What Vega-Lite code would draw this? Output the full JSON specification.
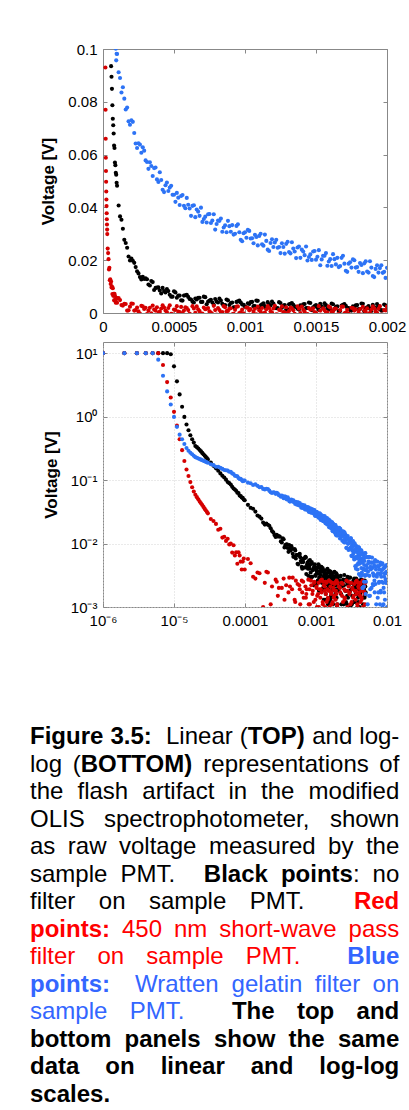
{
"$schema": "https://vega.github.io/schema/vega-lite/v6.json",
"background": "#ffffff",
"padding": {"left": 30, "top": 41, "right": 0, "bottom": 0},
"spacing": 29,
"bounds": "flush",
"resolve": {"scale": {"color": "independent"}},
"config": {
  "font": "Liberation Sans",
  "axis": {"labelFont": "Liberation Sans", "labelFontSize": 15, "labelColor": "#000000", "titleFont": "Liberation Sans", "titleFontSize": 17, "titleFontWeight": "bold", "titleColor": "#000000", "tickColor": "#888888", "tickSize": -4, "domain": false, "labelPadding": 10, "labelFlush": false, "labelOverlap": false, "titlePadding": 10, "grid": false}
},
"datasets": {
"flash": [
{"us":1,"none":10,"swp450":10,"wratten":10},
{"us":2,"none":10,"swp450":10,"wratten":10},
{"us":3,"none":10,"swp450":10,"wratten":10},
{"us":4,"none":10,"swp450":10,"wratten":10},
{"us":5,"none":10,"swp450":10,"wratten":10},
{"us":6,"none":10,"swp450":10,"wratten":7.9},
{"us":7,"none":10,"swp450":6.5,"wratten":4.4},
{"us":8,"none":10,"swp450":3.5,"wratten":2.5},
{"us":9,"none":9.6,"swp450":2.0,"wratten":1.55},
{"us":10,"none":6.2,"swp450":1.19,"wratten":0.99},
{"us":11,"none":3.6,"swp450":0.72,"wratten":0.69},
{"us":12,"none":2.24,"swp450":0.44,"wratten":0.52},
{"us":13,"none":1.43,"swp450":0.296,"wratten":0.44},
{"us":14,"none":0.99,"swp450":0.2,"wratten":0.37},
{"us":15,"none":0.75,"swp450":0.147,"wratten":0.32},
{"us":16,"none":0.61,"swp450":0.116,"wratten":0.29},
{"us":17,"none":0.51,"swp450":0.093,"wratten":0.27},
{"us":18,"none":0.44,"swp450":0.077,"wratten":0.255},
{"us":19,"none":0.39,"swp450":0.066,"wratten":0.242},
{"us":20,"none":0.345,"swp450":0.0588,"wratten":0.23},
{"us":21,"none":0.33,"swp450":0.0538,"wratten":0.2245},
{"us":22,"none":0.315,"swp450":0.0497,"wratten":0.219},
{"us":23,"none":0.298,"swp450":0.046,"wratten":0.2145},
{"us":24,"none":0.283,"swp450":0.043,"wratten":0.21},
{"us":25,"none":0.268,"swp450":0.0405,"wratten":0.2057},
{"us":26,"none":0.255,"swp450":0.0378,"wratten":0.2017},
{"us":27,"none":0.243,"swp450":0.0355,"wratten":0.198},
{"us":28,"none":0.232,"swp450":0.0335,"wratten":0.1944},
{"us":29,"none":0.222,"swp450":0.0316,"wratten":0.191},
{"us":30,"none":0.212,"swp450":0.0299,"wratten":0.1878},
{"us":33,"none":0.1896,"swp450":0.0244,"wratten":0.1775},
{"us":36,"none":0.1678,"swp450":0.0227,"wratten":0.172},
{"us":39,"none":0.1532,"swp450":0.0204,"wratten":0.1625},
{"us":42,"none":0.1404,"swp450":0.0165,"wratten":0.1619},
{"us":45,"none":0.1275,"swp450":0.0171,"wratten":0.156},
{"us":48,"none":0.1171,"swp450":0.0124,"wratten":0.1499},
{"us":51,"none":0.11,"swp450":0.0128,"wratten":0.1441},
{"us":54,"none":0.1016,"swp450":0.011,"wratten":0.143},
{"us":57,"none":0.0935,"swp450":0.0119,"wratten":0.141},
{"us":60,"none":0.0895,"swp450":0.0097,"wratten":0.1351},
{"us":63,"none":0.0849,"swp450":0.01,"wratten":0.1352},
{"us":66,"none":0.0787,"swp450":0.0072,"wratten":0.1273},
{"us":69,"none":0.0736,"swp450":0.0094,"wratten":0.1246},
{"us":72,"none":0.0711,"swp450":0.0065,"wratten":0.1169},
{"us":75,"none":0.068,"swp450":0.0073,"wratten":0.116},
{"us":78,"none":0.0634,"swp450":0.0048,"wratten":0.1146},
{"us":81,"none":0.0625,"swp450":0.0073,"wratten":0.1076},
{"us":84,"none":0.057,"swp450":0.0065,"wratten":0.1038},
{"us":87,"none":0.056,"swp450":0.0052,"wratten":0.1047},
{"us":90,"none":0.0531,"swp450":0.0039,"wratten":0.1001},
{"us":93,"none":0.0524,"swp450":0.0052,"wratten":0.0957},
{"us":96,"none":0.0493,"swp450":0.0058,"wratten":0.0982},
{"us":99,"none":0.0482,"swp450":0.0039,"wratten":0.0981},
{"us":110,"none":0.0407,"swp450":0.0057,"wratten":0.0912},
{"us":130,"none":0.0353,"swp450":0.003,"wratten":0.0835},
{"us":150,"none":0.0277,"swp450":0.0035,"wratten":0.0812},
{"us":170,"none":0.0247,"swp450":0.0009,"wratten":0.0778},
{"us":190,"none":0.0199,"swp450":0.0024,"wratten":0.0713},
{"us":210,"none":0.0198,"swp450":0.0035,"wratten":0.0724},
{"us":230,"none":0.0174,"swp450":0.0011,"wratten":0.0642},
{"us":250,"none":0.015,"swp450":0.0006,"wratten":0.0643},
{"us":270,"none":0.0127,"swp450":0.0027,"wratten":0.0607},
{"us":290,"none":0.0129,"swp450":0.0015,"wratten":0.0615},
{"us":310,"none":0.0128,"swp450":-0.0004,"wratten":0.0572},
{"us":330,"none":0.0104,"swp450":0.002,"wratten":0.0571},
{"us":350,"none":0.0117,"swp450":0.0028,"wratten":0.0519},
{"us":370,"none":0.0095,"swp450":0.0009,"wratten":0.0551},
{"us":390,"none":0.0097,"swp450":0.00003,"wratten":0.0496},
{"us":410,"none":0.0074,"swp450":0.0017,"wratten":0.0504},
{"us":430,"none":0.0083,"swp450":0.0021,"wratten":0.0458},
{"us":450,"none":0.0091,"swp450":0.0004,"wratten":0.0494},
{"us":470,"none":0.0069,"swp450":0.0029,"wratten":0.0475},
{"us":490,"none":0.0062,"swp450":-0.0005,"wratten":0.0448},
{"us":510,"none":0.0078,"swp450":0.0012,"wratten":0.0421},
{"us":530,"none":0.0066,"swp450":0.0005,"wratten":0.0437},
{"us":550,"none":0.0048,"swp450":0.0023,"wratten":0.0443},
{"us":570,"none":0.0066,"swp450":0.0009,"wratten":0.0406},
{"us":590,"none":0.0069,"swp450":0.0019,"wratten":0.0436},
{"us":610,"none":0.0053,"swp450":-0.0002,"wratten":0.0396},
{"us":630,"none":0.0043,"swp450":0.0026,"wratten":0.0406},
{"us":650,"none":0.0055,"swp450":0.0001,"wratten":0.0363},
{"us":670,"none":0.0058,"swp450":0.0014,"wratten":0.0384},
{"us":690,"none":0.0042,"swp450":-0.0007,"wratten":0.0399},
{"us":710,"none":0.0062,"swp450":0.0021,"wratten":0.0356},
{"us":730,"none":0.0033,"swp450":0.0016,"wratten":0.0343},
{"us":750,"none":0.0047,"swp450":0.0006,"wratten":0.0375},
{"us":770,"none":0.004,"swp450":-0.0004,"wratten":0.035},
{"us":790,"none":0.0053,"swp450":0.0011,"wratten":0.0316},
{"us":810,"none":0.004,"swp450":0.0019,"wratten":0.035},
{"us":830,"none":0.0047,"swp450":0.0002,"wratten":0.0358},
{"us":850,"none":0.0029,"swp450":0.0026,"wratten":0.0324},
{"us":870,"none":0.0051,"swp450":0.0007,"wratten":0.0306},
{"us":890,"none":0.003,"swp450":0.0016,"wratten":0.0329},
{"us":910,"none":0.004,"swp450":-0.0005,"wratten":0.0333},
{"us":930,"none":0.0022,"swp450":0.0012,"wratten":0.03},
{"us":950,"none":0.0044,"swp450":0.0025,"wratten":0.0336},
{"us":970,"none":0.004,"swp450":0.0003,"wratten":0.0277},
{"us":990,"none":0.0031,"swp450":-0.0001,"wratten":0.0302},
{"us":1010,"none":0.0022,"swp450":0.0021,"wratten":0.0285},
{"us":1030,"none":0.0034,"swp450":0.001,"wratten":0.0311},
{"us":1050,"none":0.0042,"swp450":-0.0008,"wratten":0.0283},
{"us":1070,"none":0.0026,"swp450":0.0016,"wratten":0.0296},
{"us":1090,"none":0.0046,"swp450":0.0024,"wratten":0.0256},
{"us":1110,"none":0.0029,"swp450":0.0006,"wratten":0.03},
{"us":1130,"none":0.0037,"swp450":-0.0003,"wratten":0.0255},
{"us":1150,"none":0.0018,"swp450":0.0014,"wratten":0.0273},
{"us":1170,"none":0.0032,"swp450":0.0019,"wratten":0.0235},
{"us":1190,"none":0.0043,"swp450":0.0002,"wratten":0.0279},
{"us":1210,"none":0.0024,"swp450":0.0027,"wratten":0.0267},
{"us":1230,"none":0.0019,"swp450":-0.0006,"wratten":0.0247},
{"us":1250,"none":0.0038,"swp450":0.0011,"wratten":0.0227},
{"us":1270,"none":0.0028,"swp450":0.0004,"wratten":0.025},
{"us":1290,"none":0.0013,"swp450":0.0022,"wratten":0.0262},
{"us":1310,"none":0.0033,"swp450":0.0008,"wratten":0.0231},
{"us":1330,"none":0.0038,"swp450":0.0018,"wratten":0.0268},
{"us":1350,"none":0.0024,"swp450":-0.0003,"wratten":0.0233},
{"us":1370,"none":0.0016,"swp450":0.0025,"wratten":0.0248},
{"us":1390,"none":0.0029,"swp450":-0.00002,"wratten":0.0209},
{"us":1410,"none":0.0033,"swp450":0.0012,"wratten":0.0233},
{"us":1430,"none":0.0019,"swp450":-0.0009,"wratten":0.0252},
{"us":1450,"none":0.004,"swp450":0.0019,"wratten":0.0212},
{"us":1470,"none":0.0011,"swp450":0.0014,"wratten":0.0201},
{"us":1490,"none":0.0026,"swp450":0.0004,"wratten":0.0235},
{"us":1510,"none":0.002,"swp450":-0.0006,"wratten":0.0213},
{"us":1530,"none":0.0035,"swp450":0.0009,"wratten":0.0181},
{"us":1550,"none":0.0022,"swp450":0.0018,"wratten":0.0217},
{"us":1570,"none":0.003,"swp450":0.0001,"wratten":0.0227},
{"us":1590,"none":0.0013,"swp450":0.0025,"wratten":0.0195},
{"us":1610,"none":0.0036,"swp450":0.0006,"wratten":0.0178},
{"us":1630,"none":0.0015,"swp450":0.0016,"wratten":0.0204},
{"us":1650,"none":0.0025,"swp450":-0.0006,"wratten":0.0209},
{"us":1670,"none":0.0008,"swp450":0.0011,"wratten":0.0178},
{"us":1690,"none":0.0031,"swp450":0.0024,"wratten":0.0217},
{"us":1710,"none":0.0027,"swp450":0.0002,"wratten":0.016},
{"us":1730,"none":0.0019,"swp450":-0.0002,"wratten":0.0187},
{"us":1750,"none":0.0009,"swp450":0.002,"wratten":0.0172},
{"us":1770,"none":0.0022,"swp450":0.0009,"wratten":0.02},
{"us":1790,"none":0.003,"swp450":-0.0009,"wratten":0.0174},
{"us":1810,"none":0.0015,"swp450":0.0015,"wratten":0.0189},
{"us":1830,"none":0.0035,"swp450":0.0023,"wratten":0.0151},
{"us":1850,"none":0.0018,"swp450":0.0005,"wratten":0.0196},
{"us":1870,"none":0.0026,"swp450":-0.0004,"wratten":0.0153},
{"us":1890,"none":0.0008,"swp450":0.0013,"wratten":0.0172},
{"us":1910,"none":0.0022,"swp450":0.0018,"wratten":0.0136},
{"us":1930,"none":0.0034,"swp450":0.0001,"wratten":0.0181},
{"us":1950,"none":0.0014,"swp450":0.0026,"wratten":0.017},
{"us":1970,"none":0.001,"swp450":-0.0007,"wratten":0.0152},
{"us":1990,"none":0.0029,"swp450":0.001,"wratten":0.0133},
{"us":120,"none":0.0366,"swp450":0.0049,"wratten":0.089},
{"us":140,"none":0.0319,"swp450":0.0028,"wratten":0.0855},
{"us":160,"none":0.0265,"swp450":0.0034,"wratten":0.0771},
{"us":180,"none":0.0214,"swp450":0.001,"wratten":0.0726},
{"us":200,"none":0.0206,"swp450":0.0036,"wratten":0.073},
{"us":220,"none":0.019,"swp450":0.0009,"wratten":0.0682},
{"us":240,"none":0.0158,"swp450":0.0021,"wratten":0.0625},
{"us":260,"none":0.0136,"swp450":-0.0002,"wratten":0.0638},
{"us":280,"none":0.0137,"swp450":0.0025,"wratten":0.0628},
{"us":300,"none":0.0131,"swp450":0.002,"wratten":0.0578},
{"us":320,"none":0.0108,"swp450":0.0009,"wratten":0.0546},
{"us":340,"none":0.0121,"swp450":-0.0001,"wratten":0.0557},
{"us":360,"none":0.0087,"swp450":0.0013,"wratten":0.0549},
{"us":380,"none":0.0096,"swp450":0.0022,"wratten":0.0506},
{"us":400,"none":0.0085,"swp450":0.0005,"wratten":0.0533},
{"us":420,"none":0.0095,"swp450":0.0029,"wratten":0.0467},
{"us":440,"none":0.0078,"swp450":0.0009,"wratten":0.0484},
{"us":460,"none":0.0083,"swp450":0.0019,"wratten":0.0462},
{"us":480,"none":0.0062,"swp450":-0.0003,"wratten":0.0482},
{"us":500,"none":0.0082,"swp450":0.0013,"wratten":0.0448},
{"us":520,"none":0.0058,"swp450":0.0026,"wratten":0.0455},
{"us":540,"none":0.0066,"swp450":0.0004,"wratten":0.0409},
{"us":560,"none":0.0047,"swp450":-0.00004,"wratten":0.0447},
{"us":580,"none":0.0067,"swp450":0.0022,"wratten":0.0397},
{"us":600,"none":0.0061,"swp450":0.0011,"wratten":0.041},
{"us":620,"none":0.0051,"swp450":-0.0007,"wratten":0.0368},
{"us":640,"none":0.004,"swp450":0.0017,"wratten":0.0408},
{"us":660,"none":0.0051,"swp450":0.0025,"wratten":0.0392},
{"us":680,"none":0.0058,"swp450":0.0007,"wratten":0.0368},
{"us":700,"none":0.0042,"swp450":-0.0002,"wratten":0.0345},
{"us":720,"none":0.006,"swp450":0.0014,"wratten":0.0365},
{"us":740,"none":0.0043,"swp450":0.0019,"wratten":0.0374},
{"us":760,"none":0.005,"swp450":0.0002,"wratten":0.0341},
{"us":780,"none":0.0031,"swp450":0.0027,"wratten":0.0374},
{"us":800,"none":0.0044,"swp450":-0.0006,"wratten":0.0337},
{"us":820,"none":0.0055,"swp450":0.0011,"wratten":0.0349},
{"us":840,"none":0.0035,"swp450":0.0004,"wratten":0.0308},
{"us":860,"none":0.003,"swp450":0.0022,"wratten":0.0332},
{"us":880,"none":0.0048,"swp450":0.0008,"wratten":0.0349},
{"us":900,"none":0.0038,"swp450":0.0018,"wratten":0.0308},
{"us":920,"none":0.0022,"swp450":-0.0003,"wratten":0.0297},
{"us":940,"none":0.0042,"swp450":0.0024,"wratten":0.033},
{"us":960,"none":0.0047,"swp450":-0.00002,"wratten":0.0306},
{"us":980,"none":0.0032,"swp450":0.0013,"wratten":0.0272},
{"us":1000,"none":0.0024,"swp450":-0.0008,"wratten":0.0306},
{"us":1020,"none":0.0037,"swp450":0.002,"wratten":0.0315},
{"us":1040,"none":0.0041,"swp450":0.0015,"wratten":0.0282},
{"us":1060,"none":0.0026,"swp450":0.0005,"wratten":0.0264},
{"us":1080,"none":0.0047,"swp450":-0.0005,"wratten":0.0288},
{"us":1100,"none":0.0018,"swp450":0.001,"wratten":0.0292},
{"us":1120,"none":0.0033,"swp450":0.0019,"wratten":0.026},
{"us":1140,"none":0.0026,"swp450":0.0002,"wratten":0.0297},
{"us":1160,"none":0.0041,"swp450":0.0026,"wratten":0.024},
{"us":1180,"none":0.0028,"swp450":0.0007,"wratten":0.0265},
{"us":1200,"none":0.0036,"swp450":0.0017,"wratten":0.025},
{"us":1220,"none":0.0018,"swp450":-0.0005,"wratten":0.0277},
{"us":1240,"none":0.0041,"swp450":0.0012,"wratten":0.025},
{"us":1260,"none":0.002,"swp450":0.0025,"wratten":0.0264},
{"us":1280,"none":0.003,"swp450":0.0003,"wratten":0.0225},
{"us":1300,"none":0.0013,"swp450":-0.0001,"wratten":0.027},
{"us":1320,"none":0.0035,"swp450":0.0021,"wratten":0.0226},
{"us":1340,"none":0.0031,"swp450":0.001,"wratten":0.0244},
{"us":1360,"none":0.0023,"swp450":-0.0008,"wratten":0.0208},
{"us":1380,"none":0.0013,"swp450":0.0016,"wratten":0.0252},
{"us":1400,"none":0.0026,"swp450":0.0024,"wratten":0.024},
{"us":1420,"none":0.0034,"swp450":0.0005,"wratten":0.0219},
{"us":1440,"none":0.0019,"swp450":-0.0004,"wratten":0.0199},
{"us":1460,"none":0.0038,"swp450":0.0013,"wratten":0.0222},
{"us":1480,"none":0.0022,"swp450":0.0018,"wratten":0.0233},
{"us":1500,"none":0.003,"swp450":0.0001,"wratten":0.0202},
{"us":1520,"none":0.0012,"swp450":0.0026,"wratten":0.0238},
{"us":1540,"none":0.0025,"swp450":-0.0007,"wratten":0.0203},
{"us":1560,"none":0.0037,"swp450":0.001,"wratten":0.0217},
{"us":1580,"none":0.0018,"swp450":0.0003,"wratten":0.0179},
{"us":1600,"none":0.0014,"swp450":0.0021,"wratten":0.0204},
{"us":1620,"none":0.0033,"swp450":0.0007,"wratten":0.0223},
{"us":1640,"none":0.0023,"swp450":0.0017,"wratten":0.0184},
{"us":1660,"none":0.0008,"swp450":-0.0004,"wratten":0.0174},
{"us":1680,"none":0.0028,"swp450":0.0024,"wratten":0.0209},
{"us":1700,"none":0.0034,"swp450":-0.0001,"wratten":0.0187},
{"us":1720,"none":0.002,"swp450":0.0012,"wratten":0.0156},
{"us":1740,"none":0.0011,"swp450":-0.0009,"wratten":0.0192},
{"us":1760,"none":0.0025,"swp450":0.0019,"wratten":0.0203},
{"us":1780,"none":0.0029,"swp450":0.0014,"wratten":0.0172},
{"us":1800,"none":0.0015,"swp450":0.0004,"wratten":0.0156},
{"us":1820,"none":0.0036,"swp450":-0.0006,"wratten":0.0182},
{"us":1840,"none":0.0007,"swp450":0.0009,"wratten":0.0188},
{"us":1860,"none":0.0022,"swp450":0.0018,"wratten":0.0157},
{"us":1880,"none":0.0016,"swp450":0.0001,"wratten":0.0196},
{"us":1900,"none":0.0031,"swp450":0.0025,"wratten":0.014},
{"us":1920,"none":0.0019,"swp450":0.0006,"wratten":0.0167},
{"us":1940,"none":0.0026,"swp450":0.0016,"wratten":0.0153},
{"us":1960,"none":0.0009,"swp450":-0.0006,"wratten":0.0181},
{"us":1980,"none":0.0032,"swp450":0.0011,"wratten":0.0156},
{"us":2000,"none":0.0011,"swp450":0.0024,"wratten":0.0171},
{"us":2050,"none":0.0019,"swp450":0.0003,"wratten":0.0155},
{"us":2100,"none":0.0005,"swp450":0.0021,"wratten":0.0167},
{"us":2150,"none":0.0024,"swp450":0.0007,"wratten":0.0135},
{"us":2200,"none":0.003,"swp450":0.0017,"wratten":0.0171},
{"us":2250,"none":0.0016,"swp450":-0.0004,"wratten":0.0136},
{"us":2300,"none":0.0008,"swp450":0.0024,"wratten":0.015},
{"us":2350,"none":0.0022,"swp450":-0.0001,"wratten":0.0111},
{"us":2400,"none":0.0026,"swp450":0.0012,"wratten":0.0136},
{"us":2450,"none":0.0011,"swp450":-0.0009,"wratten":0.0154},
{"us":2500,"none":0.0032,"swp450":0.0019,"wratten":0.0114},
{"us":2550,"none":0.0004,"swp450":0.0014,"wratten":0.0104},
{"us":2600,"none":0.0018,"swp450":0.0004,"wratten":0.0138},
{"us":2650,"none":0.0012,"swp450":-0.0006,"wratten":0.0116},
{"us":2700,"none":0.0027,"swp450":0.0009,"wratten":0.0085},
{"us":2750,"none":0.0015,"swp450":0.0018,"wratten":0.0121},
{"us":2800,"none":0.0023,"swp450":0.0001,"wratten":0.0131},
{"us":2850,"none":0.0005,"swp450":0.0025,"wratten":0.01},
{"us":2900,"none":0.0029,"swp450":0.0006,"wratten":0.0082},
{"us":2950,"none":0.0008,"swp450":0.0016,"wratten":0.0109},
{"us":3000,"none":0.0018,"swp450":-0.0006,"wratten":0.0114},
{"us":3050,"none":0.0001,"swp450":0.0011,"wratten":0.0083},
{"us":3100,"none":0.0024,"swp450":0.0024,"wratten":0.0121},
{"us":3150,"none":0.0019,"swp450":0.0002,"wratten":0.0064},
{"us":3200,"none":0.0011,"swp450":-0.0002,"wratten":0.0091},
{"us":3250,"none":0.0002,"swp450":0.002,"wratten":0.0077},
{"us":3300,"none":0.0015,"swp450":0.0009,"wratten":0.0105},
{"us":3350,"none":0.0023,"swp450":-0.0009,"wratten":0.0079},
{"us":3400,"none":0.0008,"swp450":0.0015,"wratten":0.0094},
{"us":3450,"none":0.0028,"swp450":0.0023,"wratten":0.0056},
{"us":3500,"none":0.0012,"swp450":0.0005,"wratten":0.0101},
{"us":3550,"none":0.002,"swp450":-0.0004,"wratten":0.0058},
{"us":3600,"none":0.0002,"swp450":0.0013,"wratten":0.0077},
{"us":3650,"none":0.0016,"swp450":0.0018,"wratten":0.004},
{"us":3700,"none":0.0027,"swp450":0.0001,"wratten":0.0087},
{"us":3750,"none":0.0009,"swp450":0.0026,"wratten":0.0076},
{"us":3800,"none":0.0005,"swp450":-0.0007,"wratten":0.0058},
{"us":3850,"none":0.0023,"swp450":0.001,"wratten":0.0039},
{"us":3900,"none":0.0014,"swp450":0.0003,"wratten":0.0064},
{"us":3950,"none":-0.0001,"swp450":0.0021,"wratten":0.0077},
{"us":4000,"none":0.0019,"swp450":0.0007,"wratten":0.0048},
{"us":4050,"none":0.0025,"swp450":0.0017,"wratten":0.0086},
{"us":4100,"none":0.001,"swp450":-0.0004,"wratten":0.0053},
{"us":4150,"none":0.0003,"swp450":0.0024,"wratten":0.0068},
{"us":4200,"none":0.0017,"swp450":-0.0001,"wratten":0.0031},
{"us":4250,"none":0.0021,"swp450":0.0012,"wratten":0.0058},
{"us":4300,"none":0.0007,"swp450":-0.0009,"wratten":0.0079},
{"us":4350,"none":0.0027,"swp450":0.0019,"wratten":0.0041},
{"us":4400,"none":-0.00002,"swp450":0.0014,"wratten":0.0033},
{"us":4450,"none":0.0014,"swp450":0.0004,"wratten":0.0069},
{"us":4500,"none":0.0008,"swp450":-0.0006,"wratten":0.005},
{"us":4550,"none":0.0023,"swp450":0.0009,"wratten":0.002},
{"us":4600,"none":0.0011,"swp450":0.0018,"wratten":0.0058},
{"us":4650,"none":0.0019,"swp450":0.0001,"wratten":0.007},
{"us":4700,"none":0.0002,"swp450":0.0025,"wratten":0.004},
{"us":4750,"none":0.0025,"swp450":0.0006,"wratten":0.0025},
{"us":4800,"none":0.0004,"swp450":0.0016,"wratten":0.0053},
{"us":4850,"none":0.0015,"swp450":-0.0006,"wratten":0.006},
{"us":4900,"none":-0.0002,"swp450":0.0011,"wratten":0.0031},
{"us":4950,"none":0.0021,"swp450":0.0024,"wratten":0.0071},
{"us":5000,"none":0.0017,"swp450":0.0002,"wratten":0.0016},
{"us":2025,"none":0.003,"swp450":0.0024,"wratten":0.0172},
{"us":2075,"none":0.0018,"swp450":0.0002,"wratten":0.014},
{"us":2125,"none":0.0026,"swp450":-0.0002,"wratten":0.0177},
{"us":2175,"none":0.0008,"swp450":0.002,"wratten":0.012},
{"us":2225,"none":0.0031,"swp450":0.0009,"wratten":0.0145},
{"us":2275,"none":0.0011,"swp450":-0.0009,"wratten":0.013},
{"us":2325,"none":0.0021,"swp450":0.0015,"wratten":0.0157},
{"us":2375,"none":0.0004,"swp450":0.0023,"wratten":0.013},
{"us":2425,"none":0.0027,"swp450":0.0005,"wratten":0.0144},
{"us":2475,"none":0.0022,"swp450":-0.0004,"wratten":0.0105},
{"us":2525,"none":0.0014,"swp450":0.0013,"wratten":0.0149},
{"us":2575,"none":0.0005,"swp450":0.0018,"wratten":0.0105},
{"us":2625,"none":0.0018,"swp450":0.0001,"wratten":0.0123},
{"us":2675,"none":0.0025,"swp450":0.0026,"wratten":0.0086},
{"us":2725,"none":0.0011,"swp450":-0.0007,"wratten":0.013},
{"us":2775,"none":0.003,"swp450":0.001,"wratten":0.0119},
{"us":2825,"none":0.0014,"swp450":0.0003,"wratten":0.0099},
{"us":2875,"none":0.0022,"swp450":0.0021,"wratten":0.0079},
{"us":2925,"none":0.0004,"swp450":0.0007,"wratten":0.0103},
{"us":2975,"none":0.0017,"swp450":0.0017,"wratten":0.0115},
{"us":3025,"none":0.0029,"swp450":-0.0004,"wratten":0.0085},
{"us":3075,"none":0.001,"swp450":0.0024,"wratten":0.0121},
{"us":3125,"none":0.0006,"swp450":-0.0001,"wratten":0.0087},
{"us":3175,"none":0.0024,"swp450":0.0012,"wratten":0.0101},
{"us":3225,"none":0.0015,"swp450":-0.0009,"wratten":0.0063},
{"us":3275,"none":0.0001,"swp450":0.0019,"wratten":0.0089},
{"us":3325,"none":0.002,"swp450":0.0014,"wratten":0.0109},
{"us":3375,"none":0.0026,"swp450":0.0004,"wratten":0.007},
{"us":3425,"none":0.0012,"swp450":-0.0006,"wratten":0.0061},
{"us":3475,"none":0.0004,"swp450":0.0009,"wratten":0.0096},
{"us":3525,"none":0.0018,"swp450":0.0018,"wratten":0.0075},
{"us":3575,"none":0.0022,"swp450":0.0001,"wratten":0.0044},
{"us":3625,"none":0.0008,"swp450":0.0025,"wratten":0.0081},
{"us":3675,"none":0.0028,"swp450":0.0006,"wratten":0.0092},
{"us":3725,"none":0.0001,"swp450":0.0016,"wratten":0.0062},
{"us":3775,"none":0.0016,"swp450":-0.0006,"wratten":0.0046},
{"us":3825,"none":0.001,"swp450":0.0011,"wratten":0.0073},
{"us":3875,"none":0.0024,"swp450":0.0024,"wratten":0.0079},
{"us":3925,"none":0.0012,"swp450":0.0002,"wratten":0.0049},
{"us":3975,"none":0.002,"swp450":-0.0002,"wratten":0.0088},
{"us":4025,"none":0.0003,"swp450":0.002,"wratten":0.0033},
{"us":4075,"none":0.0026,"swp450":0.0009,"wratten":0.0061},
{"us":4125,"none":0.0005,"swp450":-0.0009,"wratten":0.0048},
{"us":4175,"none":0.0016,"swp450":0.0015,"wratten":0.0077},
{"us":4225,"none":-0.0001,"swp450":0.0023,"wratten":0.0052},
{"us":4275,"none":0.0022,"swp450":0.0005,"wratten":0.0068},
{"us":4325,"none":0.0018,"swp450":-0.0004,"wratten":0.0031},
{"us":4375,"none":0.0009,"swp450":0.0013,"wratten":0.0077},
{"us":4425,"none":0.0001,"swp450":0.0018,"wratten":0.0035},
{"us":4475,"none":0.0014,"swp450":0.0001,"wratten":0.0055},
{"us":4525,"none":0.0021,"swp450":0.0026,"wratten":0.002},
{"us":4575,"none":0.0007,"swp450":-0.0007,"wratten":0.0066},
{"us":4625,"none":0.0026,"swp450":0.001,"wratten":0.0057},
{"us":4675,"none":0.001,"swp450":0.0003,"wratten":0.0039},
{"us":4725,"none":0.0019,"swp450":0.0021,"wratten":0.0021},
{"us":4775,"none":0.0001,"swp450":0.0007,"wratten":0.0046},
{"us":4825,"none":0.0014,"swp450":0.0017,"wratten":0.0061},
{"us":4875,"none":0.0026,"swp450":-0.0004,"wratten":0.0032},
{"us":4925,"none":0.0007,"swp450":0.0024,"wratten":0.007},
{"us":4975,"none":0.0003,"swp450":-0.0001,"wratten":0.0038},
{"us":5100,"wratten":0.0045},
{"us":5200,"wratten":0.0032},
{"us":5300,"wratten":0.0061},
{"us":5400,"wratten":0.0036},
{"us":5500,"wratten":0.0052},
{"us":5600,"wratten":0.0015},
{"us":5700,"wratten":0.0061},
{"us":5800,"wratten":0.0019},
{"us":5900,"wratten":0.0039},
{"us":6000,"wratten":0.0004},
{"us":6100,"wratten":0.005},
{"us":6200,"wratten":0.0041},
{"us":6300,"wratten":0.0023},
{"us":6400,"wratten":0.0006},
{"us":6500,"wratten":0.0031},
{"us":6600,"wratten":0.0045},
{"us":6700,"wratten":0.0017},
{"us":6800,"wratten":0.0055},
{"us":6900,"wratten":0.0023},
{"us":7000,"wratten":0.0039},
{"us":7100,"wratten":0.0003},
{"us":7200,"wratten":0.003},
{"us":7300,"wratten":0.0052},
{"us":7400,"wratten":0.0014},
{"us":7500,"wratten":0.0007},
{"us":7600,"wratten":0.0043},
{"us":7700,"wratten":0.0024},
{"us":7800,"wratten":-0.0006},
{"us":7900,"wratten":0.0033},
{"us":8000,"wratten":0.0046},
{"us":8100,"wratten":0.0017},
{"us":8200,"wratten":0.0002},
{"us":8300,"wratten":0.003},
{"us":8400,"wratten":0.0038},
{"us":8500,"wratten":0.0008},
{"us":8600,"wratten":0.0049},
{"us":8700,"wratten":-0.0006},
{"us":8800,"wratten":0.0024},
{"us":8900,"wratten":0.0011},
{"us":9000,"wratten":0.0041},
{"us":9100,"wratten":0.0017},
{"us":9200,"wratten":0.0034},
{"us":9300,"wratten":-0.0003},
{"us":9400,"wratten":0.0044},
{"us":9500,"wratten":0.0003},
{"us":9600,"wratten":0.0024},
{"us":9700,"wratten":-0.0011},
{"us":9800,"wratten":0.0036},
{"us":9900,"wratten":0.0027},
{"us":10000,"wratten":0.001},
{"us":5050,"wratten":0.0025},
{"us":5150,"wratten":0.0061},
{"us":5250,"wratten":0.0041},
{"us":5350,"wratten":0.0011},
{"us":5450,"wratten":0.0049},
{"us":5550,"wratten":0.0061},
{"us":5650,"wratten":0.0031},
{"us":5750,"wratten":0.0015},
{"us":5850,"wratten":0.0043},
{"us":5950,"wratten":0.005},
{"us":6050,"wratten":0.002},
{"us":6150,"wratten":0.006},
{"us":6250,"wratten":0.0005},
{"us":6350,"wratten":0.0034},
{"us":6450,"wratten":0.0022},
{"us":6550,"wratten":0.0051},
{"us":6650,"wratten":0.0026},
{"us":6750,"wratten":0.0043},
{"us":6850,"wratten":0.0006},
{"us":6950,"wratten":0.0052},
{"us":7050,"wratten":0.0011},
{"us":7150,"wratten":0.0032},
{"us":7250,"wratten":-0.0004},
{"us":7350,"wratten":0.0044},
{"us":7450,"wratten":0.0034},
{"us":7550,"wratten":0.0017},
{"us":7650,"wratten":-0.0001},
{"us":7750,"wratten":0.0025},
{"us":7850,"wratten":0.0039},
{"us":7950,"wratten":0.0011},
{"us":8050,"wratten":0.005},
{"us":8150,"wratten":0.0018},
{"us":8250,"wratten":0.0034},
{"us":8350,"wratten":-0.0002},
{"us":8450,"wratten":0.0025},
{"us":8550,"wratten":0.0047},
{"us":8650,"wratten":0.001},
{"us":8750,"wratten":0.0003},
{"us":8850,"wratten":0.004},
{"us":8950,"wratten":0.002},
{"us":9050,"wratten":-0.0009},
{"us":9150,"wratten":0.003},
{"us":9250,"wratten":0.0042},
{"us":9350,"wratten":0.0013},
{"us":9450,"wratten":-0.0002},
{"us":9550,"wratten":0.0027},
{"us":9650,"wratten":0.0034},
{"us":9750,"wratten":0.0005},
{"us":9850,"wratten":0.0046},
{"us":9950,"wratten":-0.0009}
],
"caption": [
{"line":1,"offset":0,"text":"Figure","bold":true,"ref":"black"},
{"line":1,"offset":80.4,"text":"3.5:","bold":true,"ref":"black"},
{"line":1,"offset":136,"text":"Linear","bold":false,"ref":"black"},
{"line":1,"offset":209.8,"text":"(","bold":false,"ref":"black"},
{"line":1,"offset":217.8,"text":"TOP)","bold":true,"ref":"black"},
{"line":1,"offset":282.2,"text":"and","bold":false,"ref":"black"},
{"line":1,"offset":329.3,"text":"log-","bold":false,"ref":"black"},
{"line":2,"offset":0,"text":"log","bold":false,"ref":"black"},
{"line":2,"offset":42.7,"text":"(","bold":false,"ref":"black"},
{"line":2,"offset":50.7,"text":"BOTTOM)","bold":true,"ref":"black"},
{"line":2,"offset":173.3,"text":"representations","bold":false,"ref":"black"},
{"line":2,"offset":349.3,"text":"of","bold":false,"ref":"black"},
{"line":3,"offset":0,"text":"the","bold":false,"ref":"black"},
{"line":3,"offset":47.5,"text":"flash","bold":false,"ref":"black"},
{"line":3,"offset":112.3,"text":"artifact","bold":false,"ref":"black"},
{"line":3,"offset":198.4,"text":"in","bold":false,"ref":"black"},
{"line":3,"offset":231.1,"text":"the","bold":false,"ref":"black"},
{"line":3,"offset":278.6,"text":"modified","bold":false,"ref":"black"},
{"line":4,"offset":0,"text":"OLIS","bold":false,"ref":"black"},
{"line":4,"offset":73.9,"text":"spectrophotometer,","bold":false,"ref":"black"},
{"line":4,"offset":299.9,"text":"shown","bold":false,"ref":"black"},
{"line":5,"offset":0,"text":"as","bold":false,"ref":"black"},
{"line":5,"offset":37.8,"text":"raw","bold":false,"ref":"black"},
{"line":5,"offset":89,"text":"voltage","bold":false,"ref":"black"},
{"line":5,"offset":178.9,"text":"measured","bold":false,"ref":"black"},
{"line":5,"offset":298.1,"text":"by","bold":false,"ref":"black"},
{"line":5,"offset":335.9,"text":"the","bold":false,"ref":"black"},
{"line":6,"offset":0,"text":"sample","bold":false,"ref":"black"},
{"line":6,"offset":90.4,"text":"PMT.","bold":false,"ref":"black"},
{"line":6,"offset":173.8,"text":"Black","bold":true,"ref":"black"},
{"line":6,"offset":250.9,"text":"points","bold":true,"ref":"black"},
{"line":6,"offset":322.9,"text":":","bold":false,"ref":"black"},
{"line":6,"offset":342.6,"text":"no","bold":false,"ref":"black"},
{"line":7,"offset":0,"text":"filter","bold":false,"ref":"black"},
{"line":7,"offset":68.8,"text":"on","bold":false,"ref":"black"},
{"line":7,"offset":118.9,"text":"sample","bold":false,"ref":"black"},
{"line":7,"offset":219.7,"text":"PMT.","bold":false,"ref":"black"},
{"line":7,"offset":323.9,"text":"Red","bold":true,"ref":"red"},
{"line":8,"offset":0,"text":"points:","bold":true,"ref":"red"},
{"line":8,"offset":92,"text":"450","bold":false,"ref":"red"},
{"line":8,"offset":144,"text":"nm","bold":false,"ref":"red"},
{"line":8,"offset":189.3,"text":"short-wave","bold":false,"ref":"red"},
{"line":8,"offset":318.6,"text":"pass","bold":false,"ref":"red"},
{"line":9,"offset":0,"text":"filter","bold":false,"ref":"red"},
{"line":9,"offset":67.5,"text":"on","bold":false,"ref":"red"},
{"line":9,"offset":116.3,"text":"sample","bold":false,"ref":"red"},
{"line":9,"offset":215.7,"text":"PMT.","bold":false,"ref":"red"},
{"line":9,"offset":317.3,"text":"Blue","bold":true,"ref":"blue"},
{"line":10,"offset":0,"text":"points:","bold":true,"ref":"blue"},
{"line":10,"offset":105,"text":"Wratten","bold":false,"ref":"blue"},
{"line":10,"offset":201.6,"text":"gelatin","bold":false,"ref":"blue"},
{"line":10,"offset":284.8,"text":"filter","bold":false,"ref":"blue"},
{"line":10,"offset":342.6,"text":"on","bold":false,"ref":"blue"},
{"line":11,"offset":0,"text":"sample","bold":false,"ref":"blue"},
{"line":11,"offset":99.7,"text":"PMT.","bold":false,"ref":"blue"},
{"line":11,"offset":201.9,"text":"The","bold":true,"ref":"black"},
{"line":11,"offset":266.9,"text":"top","bold":true,"ref":"black"},
{"line":11,"offset":326.6,"text":"and","bold":true,"ref":"black"},
{"line":12,"offset":0,"text":"bottom","bold":true,"ref":"black"},
{"line":12,"offset":94.6,"text":"panels","bold":true,"ref":"black"},
{"line":12,"offset":184,"text":"show","bold":true,"ref":"black"},
{"line":12,"offset":258.6,"text":"the","bold":true,"ref":"black"},
{"line":12,"offset":307.9,"text":"same","bold":true,"ref":"black"},
{"line":13,"offset":0,"text":"data","bold":true,"ref":"black"},
{"line":13,"offset":75.3,"text":"on","bold":true,"ref":"black"},
{"line":13,"offset":130.7,"text":"linear","bold":true,"ref":"black"},
{"line":13,"offset":220.7,"text":"and","bold":true,"ref":"black"},
{"line":13,"offset":289.3,"text":"log-log","bold":true,"ref":"black"},
{"line":14,"offset":0,"text":"scales.","bold":true,"ref":"black"}
]
},
"vconcat": [
{
  "width": 284, "height": 264,
  "view": {"stroke": "#888888", "strokeWidth": 1},
  "layer": [
    {
      "data": {"name": "flash"},
      "transform": [{"fold": ["none", "swp450", "wratten"], "as": ["series", "V"]}, {"filter": "isValid(datum.V) && datum.us <= 2000"}],
      "mark": {"type": "point", "filled": true, "size": 17, "opacity": 1, "clip": true},
      "encoding": {
        "x": {"field": "us", "type": "quantitative", "scale": {"domain": [0, 2000], "nice": false, "zero": false}, "axis": {"values": [0, 500, 1000, 1500, 2000], "labelExpr": "datum.value / 1000000 + ''", "title": null}},
        "y": {"field": "V", "type": "quantitative", "scale": {"domain": [0, 0.1], "nice": false, "zero": false}, "axis": {"values": [0, 0.02, 0.04, 0.06, 0.08, 0.1], "labelExpr": "datum.value + ''", "title": "Voltage [V]"}},
        "color": {"field": "series", "type": "nominal", "scale": {"domain": ["none", "swp450", "wratten"], "range": ["#000000", "#d50000", "#2d73f5"]}, "legend": null},
        "order": {"field": "series"}
      }
    },
    {
      "data": {"values": []},
      "mark": {"type": "point", "opacity": 0},
      "encoding": {
        "x": {"field": "us", "type": "quantitative", "scale": {"domain": [0, 2000], "nice": false, "zero": false}, "axis": {"orient": "top", "values": [0, 500, 1000, 1500, 2000], "labels": false, "title": null}},
        "y": {"field": "V", "type": "quantitative", "scale": {"domain": [0, 0.1], "nice": false, "zero": false}, "axis": {"orient": "right", "values": [0, 0.02, 0.04, 0.06, 0.08, 0.1], "labels": false, "title": null}}
      }
    }
  ],
  "resolve": {"axis": {"x": "independent", "y": "independent"}}
},
{
  "width": 284, "height": 265,
  "view": {"stroke": "#888888", "strokeWidth": 1},
  "layer": [
    {
      "data": {"name": "flash"},
      "transform": [{"fold": ["none", "swp450", "wratten"], "as": ["series", "V"]}, {"filter": "datum.V > 0"}],
      "mark": {"type": "point", "filled": true, "size": 17, "opacity": 1, "clip": true},
      "encoding": {
        "x": {"field": "us", "type": "quantitative", "scale": {"type": "log", "domain": [1, 10000], "nice": false}, "axis": {"values": [1, 10, 100, 1000, 10000], "labelExpr": "datum.value == 1 ? '10⁻⁶' : datum.value == 10 ? '10⁻⁵' : datum.value / 1000000 + ''", "title": null, "grid": true, "gridColor": "#d4d4d4", "gridDash": [1, 2]}},
        "y": {"field": "V", "type": "quantitative", "scale": {"type": "log", "domain": [0.001, 15], "nice": false}, "axis": {"values": [0.001, 0.01, 0.1, 1, 10], "labelExpr": "datum.value == 10 ? '10¹' : datum.value == 1 ? '10⁰' : datum.value == 0.1 ? '10⁻¹' : datum.value == 0.01 ? '10⁻²' : '10⁻³'", "title": "Voltage [V]", "grid": true, "gridColor": "#d4d4d4", "gridDash": [1, 2]}},
        "color": {"field": "series", "type": "nominal", "scale": {"domain": ["none", "swp450", "wratten"], "range": ["#000000", "#d50000", "#2d73f5"]}, "legend": null},
        "order": {"field": "series"}
      }
    },
    {
      "data": {"values": []},
      "mark": {"type": "point", "opacity": 0},
      "encoding": {
        "x": {"field": "us", "type": "quantitative", "scale": {"type": "log", "domain": [1, 10000], "nice": false}, "axis": {"orient": "top", "values": [1, 10, 100, 1000, 10000], "labels": false, "title": null}},
        "y": {"field": "V", "type": "quantitative", "scale": {"type": "log", "domain": [0.001, 15], "nice": false}, "axis": {"orient": "right", "values": [0.001, 0.01, 0.1, 1, 10], "labels": false, "title": null}}
      }
    }
  ],
  "resolve": {"axis": {"x": "independent", "y": "independent"}}
},
{
  "width": 296, "height": 460,
  "view": {"stroke": null},
  "data": {"name": "caption"},
  "encoding": {
    "x": {"field": "offset", "type": "quantitative", "scale": {"domain": [73, 369], "nice": false, "zero": false}, "axis": null},
    "y": {"field": "line", "type": "quantitative", "scale": {"domain": [-2.938, 13.789], "nice": false, "zero": false, "reverse": true}, "axis": null},
    "text": {"field": "text"},
    "color": {"field": "ref", "type": "nominal", "scale": {"domain": ["black", "red", "blue"], "range": ["#000000", "#ff0000", "#3366ff"]}, "legend": null}
  },
  "layer": [
    {"transform": [{"filter": "!datum.bold"}], "mark": {"type": "text", "align": "left", "baseline": "alphabetic", "font": "Liberation Sans", "fontSize": 24}},
    {"transform": [{"filter": "datum.bold"}], "mark": {"type": "text", "align": "left", "baseline": "alphabetic", "font": "Liberation Sans", "fontSize": 24, "fontWeight": "bold"}}
  ]
}
]
}
